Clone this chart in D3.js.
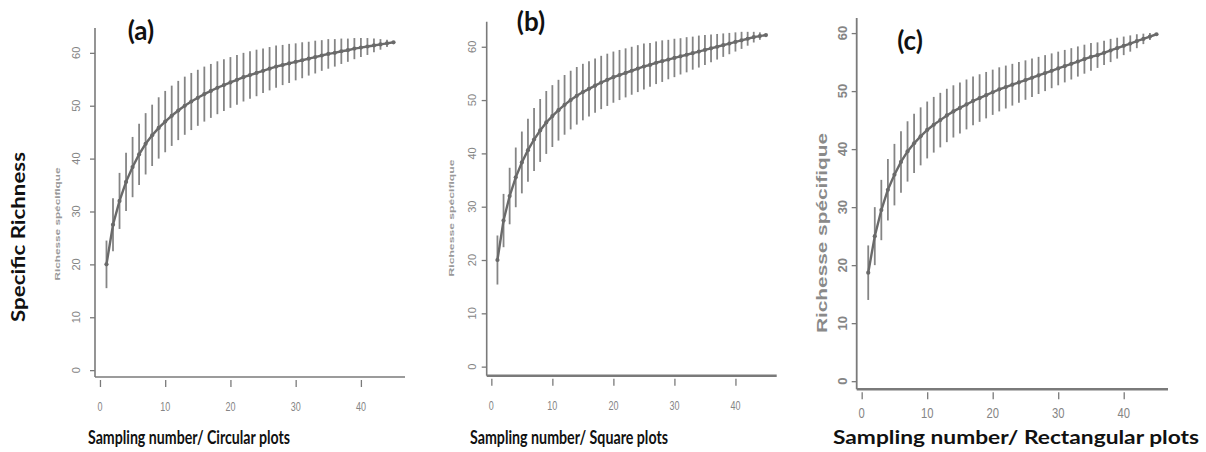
<!DOCTYPE html>
<html><head><meta charset="utf-8">
<script src="https://cdn.jsdelivr.net/npm/d3@7"></script>
<style>
html,body{margin:0;padding:0;background:#fff;}
svg{display:block;}
</style></head>
<body>
<svg id="chart" width="1206" height="452"></svg>
<script>
// ---------- DATA ----------
const samplingNumber = [1,2,3,4,5,6,7,8,9,10,11,12,13,14,15,16,17,18,19,20,21,22,23,24,25,26,27,28,29,30,31,32,33,34,35,36,37,38,39,40,41,42,43,44,45];

const richnessCircular = [20,27.5,32,35.6,38.4,40.8,42.8,44.4,45.8,47,48.1,49.1,50,50.8,51.5,52.2,52.8,53.4,53.9,54.4,54.9,55.4,55.8,56.2,56.6,57,57.4,57.7,58,58.3,58.6,58.9,59.2,59.5,59.8,60,60.3,60.5,60.8,61,61.2,61.4,61.6,61.8,62];
const sdCircular = [4.5,5,5.3,5.5,5.7,5.8,5.8,5.8,5.8,5.8,5.7,5.6,5.5,5.4,5.3,5.2,5.1,5,4.9,4.8,4.7,4.6,4.5,4.4,4.2,4.1,4,3.8,3.7,3.5,3.4,3.2,3.1,2.9,2.8,2.6,2.4,2.2,2,1.8,1.6,1.3,1,0.7,0];

const richnessSquare = [20,27.4,32,35.5,38.3,40.6,42.6,44.3,45.8,47,48.1,49.1,50,50.8,51.5,52.1,52.7,53.3,53.8,54.3,54.7,55.1,55.5,55.9,56.3,56.6,57,57.3,57.6,57.9,58.2,58.5,58.8,59.1,59.4,59.7,60,60.3,60.6,60.9,61.2,61.5,61.8,62,62.2];
const sdSquare = [4.6,5,5.3,5.6,5.8,5.9,5.9,5.9,5.9,5.8,5.7,5.6,5.5,5.4,5.3,5.2,5.1,5,4.9,4.8,4.7,4.6,4.5,4.4,4.3,4.1,4,3.9,3.7,3.6,3.4,3.3,3.1,3,2.8,2.6,2.4,2.2,2,1.8,1.6,1.3,1,0.7,0];

const richnessRectangular = [18.7,25,29.5,33,35.6,37.8,39.6,41,42.2,43.3,44.2,45,45.8,46.5,47.1,47.7,48.3,48.8,49.3,49.8,50.3,50.7,51.1,51.5,51.9,52.3,52.7,53.1,53.5,53.9,54.3,54.7,55.1,55.5,55.9,56.2,56.6,57,57.4,57.8,58.2,58.6,59,59.4,59.8];
const sdRectangular = [4.7,5,5.2,5.3,5.3,5.3,5.2,5.1,5,4.9,4.8,4.7,4.6,4.5,4.4,4.3,4.2,4.1,4,3.9,3.8,3.7,3.6,3.5,3.4,3.3,3.2,3.1,3,2.9,2.8,2.7,2.6,2.5,2.4,2.2,2.1,2,1.8,1.6,1.4,1.2,0.9,0.6,0];

const yTickValues = [0,10,20,30,40,50,60];
const xTickValues = [0,10,20,30,40];
const panelLabels = ["(a)","(b)","(c)"];
const innerYTitle = "Richesse spécifique";
const outerYTitle = "Specific Richness";
const xTitles = ["Sampling number/ Circular plots","Sampling number/ Square plots","Sampling number/ Rectangular plots"];

// ---------- LAYOUT ----------
const svg = d3.select("#chart");
const series = [
  {rich: richnessCircular, sd: sdCircular},
  {rich: richnessSquare, sd: sdSquare},
  {rich: richnessRectangular, sd: sdRectangular}
];
const layout = [
  {xr:[95,405], yd:[-1.3,64.7], yr:[377,28], yLabOff:19, yLabSize:11, yLabWeight:"normal", xLabOff:30, xLabSize:12, axisW:1.6, xAxisW:1.6,
   label:{x:141,y:40,size:26}, inner:{x:58,y:224,size:6.5,len:113}, title:{x:189,len:202}},
  {xr:[486.7,776.7], yd:[-1.7,64.7], yr:[375.7,21.7], yLabOff:15, yLabSize:11, yLabWeight:"normal", xLabOff:30, xLabSize:12, axisW:1.6, xAxisW:2.6,
   label:{x:531,y:31,size:26}, inner:{x:452,y:218,size:6.5,len:117}, title:{x:569,len:198}},
  {xr:[856.7,1168], yd:[-1.4,62.6], yr:[389.3,18], yLabOff:14, yLabSize:13, yLabWeight:"bold", xLabOff:23, xLabSize:15, axisW:1.8, xAxisW:2.6,
   label:{x:910,y:50,size:26}, inner:{x:822,y:233,size:15,len:200}, title:{x:1016,len:366}}
];
const xDomain = [-0.76, 46.76];
const lineCol = "#6a6a6a", barCol = "#858585", axisCol = "#7a7a7a", tickTextCol = "#858585";

layout.forEach((L, i) => {
  const x = d3.scaleLinear().domain(xDomain).range(L.xr);
  const y = d3.scaleLinear().domain(L.yd).range(L.yr);
  const g = svg.append("g");
  const data = samplingNumber.map((n, k) => ({n, s: series[i].rich[k], sd: series[i].sd[k]}));

  // L-shaped box
  g.append("line").attr("x1", L.xr[0]).attr("x2", L.xr[0]).attr("y1", L.yr[1]).attr("y2", L.yr[0])
    .attr("stroke", axisCol).attr("stroke-width", L.axisW);
  g.append("line").attr("x1", L.xr[0]).attr("x2", L.xr[1]).attr("y1", L.yr[0]).attr("y2", L.yr[0])
    .attr("stroke", axisCol).attr("stroke-width", L.xAxisW);

  // y ticks
  const yAx = d3.axisLeft(y).tickValues(yTickValues).tickSize(5).tickFormat("");
  const yg = g.append("g").attr("transform", `translate(${L.xr[0]},0)`).call(yAx);
  yg.select(".domain").remove();
  yg.selectAll(".tick line").attr("stroke", axisCol).attr("stroke-width", 1.3);
  g.selectAll(".ylab").data(yTickValues).join("text")
    .attr("transform", d => `translate(${L.xr[0] - L.yLabOff},${y(d)}) rotate(-90)`)
    .attr("text-anchor", "middle").attr("dy", "0.35em")
    .attr("font-family", "Liberation Sans, Arial, sans-serif").attr("font-size", L.yLabSize)
    .attr("font-weight", L.yLabWeight).attr("fill", tickTextCol).text(d => d);

  // x ticks
  const xAx = d3.axisBottom(x).tickValues(xTickValues).tickSize(7).tickFormat("");
  const xg = g.append("g").attr("transform", `translate(0,${L.yr[0] + 3})`).call(xAx);
  xg.select(".domain").remove();
  xg.selectAll(".tick line").attr("stroke", axisCol).attr("stroke-width", 1.3);
  g.selectAll(".xlab").data(xTickValues).join("text")
    .attr("x", d => x(d)).attr("y", L.yr[0] + L.xLabOff).attr("text-anchor", "middle").attr("dy", "0.35em")
    .attr("font-family", "Liberation Sans, Arial, sans-serif").attr("font-size", L.xLabSize)
    .attr("fill", tickTextCol)
    .attr("transform", d => `translate(${x(d)},0) scale(0.75,1) translate(${-x(d)},0)`)
    .text(d => d);

  // error bars
  g.selectAll(".err").data(data).join("line")
    .attr("x1", d => x(d.n)).attr("x2", d => x(d.n))
    .attr("y1", d => y(d.s - d.sd)).attr("y2", d => y(d.s + d.sd))
    .attr("stroke", barCol).attr("stroke-width", 1.8);

  // curve
  g.append("path").datum(data)
    .attr("d", d3.line().x(d => x(d.n)).y(d => y(d.s)))
    .attr("fill", "none").attr("stroke", lineCol).attr("stroke-width", 2.4);
  g.selectAll(".pt").data(data).join("circle")
    .attr("cx", d => x(d.n)).attr("cy", d => y(d.s)).attr("r", 2.1)
    .attr("fill", lineCol);

  // panel letter
  g.append("text").attr("x", L.label.x).attr("y", L.label.y).attr("text-anchor", "middle")
    .attr("font-family", "Lato, Open Sans, sans-serif").attr("font-weight", "bold")
    .attr("font-size", L.label.size).attr("fill", "#111").text(panelLabels[i]);

  // inner y title
  g.append("text").attr("transform", `translate(${L.inner.x},${L.inner.y}) rotate(-90)`)
    .attr("text-anchor", "middle").attr("dy", "0.35em")
    .attr("font-family", "Liberation Sans, Arial, sans-serif").attr("font-weight", "bold")
    .attr("font-size", L.inner.size).attr("fill", i === 2 ? "#8a8a8a" : "#999")
    .attr("textLength", L.inner.len).attr("lengthAdjust", "spacingAndGlyphs")
    .text(innerYTitle);

  // bottom title
  svg.append("text").attr("x", L.title.x).attr("y", 444).attr("text-anchor", "middle")
    .attr("font-family", "Lato, Open Sans, sans-serif").attr("font-weight", "bold")
    .attr("font-size", 18.5).attr("fill", "#111")
    .attr("textLength", L.title.len).attr("lengthAdjust", "spacingAndGlyphs")
    .text(xTitles[i]);
});

// outer y title
svg.append("text").attr("transform", "translate(19,237) rotate(-90)")
  .attr("text-anchor", "middle").attr("dy", "0.35em")
  .attr("font-family", "Lato, Open Sans, sans-serif").attr("font-weight", "bold")
  .attr("font-size", 18).attr("fill", "#111")
  .attr("textLength", 170).attr("lengthAdjust", "spacingAndGlyphs")
  .text(outerYTitle);
</script>
</body></html>
